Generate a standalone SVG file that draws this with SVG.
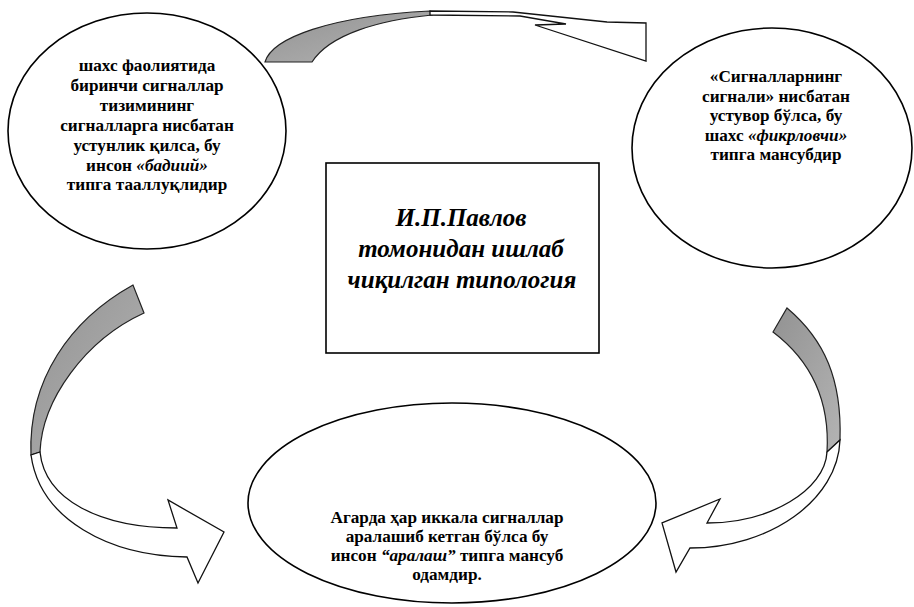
<svg xmlns="http://www.w3.org/2000/svg" width="914" height="607" viewBox="0 0 914 607">
<style>
.node{fill:#fff;stroke:#000;stroke-width:1.6}
.t{font-family:"Liberation Serif","Times New Roman",serif;font-weight:bold;font-size:17.2px;fill:#000;text-anchor:middle}
.c{font-family:"Liberation Serif","Times New Roman",serif;font-weight:bold;font-style:italic;font-size:25px;fill:#000;text-anchor:middle}
.i{font-style:italic}
.tail{fill:url(#g);stroke:#222;stroke-width:1.2}
.head{fill:#fff;stroke:#111;stroke-width:1.3;stroke-linejoin:miter}
</style>
<defs>
<linearGradient id="g" x1="0" y1="0" x2="1" y2="1">
<stop offset="0" stop-color="#929292"/>
<stop offset="1" stop-color="#b4b4b4"/>
</linearGradient>
</defs>
<rect width="914" height="607" fill="#fff"/>
<g id="connectors">
<g id="arrow-top">
<path class="tail" d="M265,62 C272,38 330,16 430,11 L432,15 C380,20 330,34 312,62 Z"/>
<path class="head" d="M430,11 L513,12 L607,22 L646,23 L646,61 L535,25 L566,24 L520,16 L430,15 Z"/>
</g>
<g id="arrow-left">
<path class="tail" d="M133,285 C70,320 28,380 31,455 L40,452 C42,400 85,340 144,313 Z"/>
<path class="head" d="M40,452 C45,500 100,528 177,528 L168,500 L224,532 L198,583 L187,557 C110,556 40,520 31,455 Z"/>
</g>
<g id="arrow-right">
<path class="tail" d="M787,308 C825,340 842,380 840,440 L827,452 C830,400 810,360 773,332 Z"/>
<path class="head" d="M840,440 C838,500 770,548 690,548 L676,572 L662,523 L720,499 L707,523 C770,523 825,490 827,452 Z"/>
</g>
</g>
<g id="node-left">
<ellipse class="node" cx="147" cy="131" rx="139" ry="118"/>
<text class="t" x="147" y="71">шахс фаолиятида</text>
<text class="t" x="147" y="91">биринчи сигналлар</text>
<text class="t" x="147" y="111">тизимининг</text>
<text class="t" x="147" y="131">сигналларга нисбатан</text>
<text class="t" x="147" y="151">устунлик қилса, бу</text>
<text class="t" x="147" y="171">инсон <tspan class="i">«бадиий»</tspan></text>
<text class="t" x="147" y="190">типга тааллуқлидир</text>
</g>
<g id="node-right">
<ellipse class="node" cx="772" cy="148" rx="140" ry="120"/>
<text class="t" x="776" y="82">«Сигналларнинг</text>
<text class="t" x="776" y="102">сигнали» нисбатан</text>
<text class="t" x="776" y="121">устувор бўлса, бу</text>
<text class="t" x="776" y="141">шахс <tspan class="i">«фикрловчи»</tspan></text>
<text class="t" x="776" y="160">типга мансубдир</text>
</g>
<g id="node-center">
<rect class="node" x="326" y="163" width="273" height="190"/>
<text class="c" x="461" y="226">И.П.Павлов</text>
<text class="c" x="461" y="257">томонидан ишлаб</text>
<text class="c" x="462" y="288">чиқилган типология</text>
</g>
<g id="node-bottom">
<ellipse class="node" cx="452" cy="503" rx="204" ry="100"/>
<text class="t" x="447" y="523">Агарда ҳар иккала сигналлар</text>
<text class="t" x="447" y="542">аралашиб кетган бўлса бу</text>
<text class="t" x="447" y="561">инсон <tspan class="i">“аралаш”</tspan> типга мансуб</text>
<text class="t" x="447" y="580">одамдир.</text>
</g>
</svg>
